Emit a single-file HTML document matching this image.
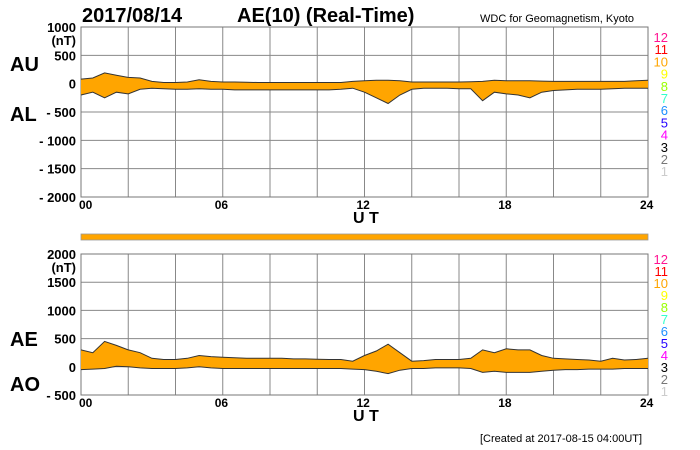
<!DOCTYPE html>
<html><head><meta charset="utf-8">
<style>
html,body{margin:0;padding:0;background:#fff;}
svg{display:block;font-family:"Liberation Sans",sans-serif;}
</style></head>
<body>
<svg id="c" width="700" height="450" viewBox="0 0 700 450">
<text x="82" y="22" font-size="20" font-weight="bold">2017/08/14</text>
<text x="237" y="22" font-size="20" font-weight="bold">AE(10) (Real-Time)</text>
<text x="480" y="22" font-size="11">WDC for Geomagnetism, Kyoto</text>
<text x="10" y="71" font-size="20" font-weight="bold">AU</text>
<text x="10" y="121" font-size="20" font-weight="bold">AL</text>
<text x="10" y="346" font-size="20" font-weight="bold">AE</text>
<text x="10" y="391" font-size="20" font-weight="bold">AO</text>
<text x="353" y="223" font-size="16" font-weight="bold">U T</text>
<text x="353" y="421" font-size="16" font-weight="bold">U T</text>
<text x="480" y="442" font-size="11">[Created at 2017-08-15 04:00UT]</text>
<rect x="81" y="234" width="567" height="6" fill="#ffa500" stroke="#999" stroke-width="0.8"/>
</svg>
<script>
const hours = [0,0.5,1,1.5,2,2.5,3,3.5,4,4.5,5,5.5,6,6.5,7,7.5,8,8.5,9,9.5,10,10.5,11,11.5,12,12.5,13,13.5,14,14.5,15,15.5,16,16.5,17,17.5,18,18.5,19,19.5,20,20.5,21,21.5,22,22.5,23,23.5,24];
const auValues = [80,100,190,150,110,100,40,20,20,30,70,40,30,30,25,20,20,20,20,20,20,20,20,40,50,60,60,50,30,30,30,30,30,35,40,60,50,50,50,45,40,40,40,40,40,40,40,50,60];
const alValues = [-200,-150,-250,-150,-180,-100,-80,-90,-100,-100,-90,-100,-100,-110,-110,-110,-110,-110,-110,-110,-110,-110,-100,-80,-150,-250,-350,-200,-100,-80,-80,-80,-90,-90,-300,-150,-180,-200,-250,-150,-120,-110,-100,-100,-100,-90,-80,-80,-80];
const aeValues = [300,250,450,380,300,250,150,130,130,150,200,180,170,160,150,150,150,150,140,140,135,130,130,100,200,280,400,250,100,110,130,130,130,150,300,250,320,300,300,200,150,140,130,120,100,150,120,130,150];
const aoValues = [-50,-40,-30,10,0,-20,-30,-30,-30,-20,0,-20,-30,-30,-30,-30,-30,-30,-30,-30,-30,-30,-30,-40,-50,-80,-120,-60,-30,-30,-20,-20,-20,-30,-100,-80,-100,-100,-100,-80,-60,-50,-50,-40,-40,-40,-30,-30,-30];
const xTicks = ["00","06","12","18","24"];
const topYTicks = [1000,500,0,-500,-1000,-1500,-2000];
const botYTicks = [2000,1500,1000,500,0,-500];
const legendNums = ["12","11","10","9","8","7","6","5","4","3","2","1"];
const legendColors = ["#ff1493","#ff0000","#ffa500","#ffff00","#99ff00","#33ffcc","#1e90ff","#2200ff","#ff00ff","#000000","#777777","#cccccc"];

const svg = document.getElementById('c');
const NS = 'http://www.w3.org/2000/svg';
const X0 = 81, X1 = 648;
const xs = h => X0 + (X1 - X0) * h / 24;
function mk(tag, attrs){const e=document.createElementNS(NS,tag);for(const k in attrs)e.setAttribute(k,attrs[k]);svg.appendChild(e);return e;}

function panel(top, bottom, vmax, vmin, yTicks, upper, lower, prefix, legTop, legStep){
  const ys = v => top + (bottom - top) * (vmax - v) / (vmax - vmin);
  for(let i=0;i<=12;i++){
    const l = mk('line',{x1:xs(i*2),x2:xs(i*2),y1:top,y2:bottom,stroke:'#888','stroke-width':1});
    
    
  }
  yTicks.forEach(v=>{
    const l = mk('line',{x1:X0,x2:X1,y1:ys(v),y2:ys(v),stroke:'#888','stroke-width':1});
    
    
    const lab = v<0 ? '- '+(-v) : String(v);
    const t = mk('text',{x:X0-5,y:ys(v)+5,'font-size':13,'font-weight':'bold','text-anchor':'end'});
    t.textContent = lab;
    
    
  });
  const nt = mk('text',{x:X0-5,y:ys(yTicks[0])+18,'font-size':13,'font-weight':'bold','text-anchor':'end'});
  nt.textContent='(nT)';
  
  
  const fr = mk('rect',{x:X0,y:top,width:X1-X0,height:bottom-top,fill:'none',stroke:'#777','stroke-width':1});
  
  
  let d = 'M'+hours.map((h,i)=>xs(h).toFixed(1)+','+ys(upper[i]).toFixed(1)).join('L');
  d += 'L'+hours.slice().reverse().map((h,j)=>{const i=hours.length-1-j;return xs(h).toFixed(1)+','+ys(lower[i]).toFixed(1);}).join('L')+'Z';
  const area = mk('path',{d:d,fill:'#ffa500',stroke:'none'});
  
  
  [upper,lower].forEach((arr,k)=>{
    const p = mk('path',{d:'M'+hours.map((h,i)=>xs(h).toFixed(1)+','+ys(arr[i]).toFixed(1)).join('L'),fill:'none',stroke:'#333','stroke-width':1});
    
    
  });
  xTicks.forEach((t,i)=>{
    const tx = mk('text',{x:xs(i*6)+(i===0?-2:-8),y:bottom+12,'font-size':12,'font-weight':'bold'});
    tx.textContent=t;
    
    
  });
  legendNums.forEach((n,i)=>{
    const t = mk('text',{x:668,y:legTop+i*legStep,'font-size':13,'text-anchor':'end',fill:legendColors[i]});
    t.textContent=n;
    
    
  });
}
panel(27,197,1000,-2000,topYTicks,auValues,alValues,'au-al',42,12.2);
panel(254,395,2000,-500,botYTicks,aeValues,aoValues,'ae-ao',264,12.0);
</script>
</body></html>
